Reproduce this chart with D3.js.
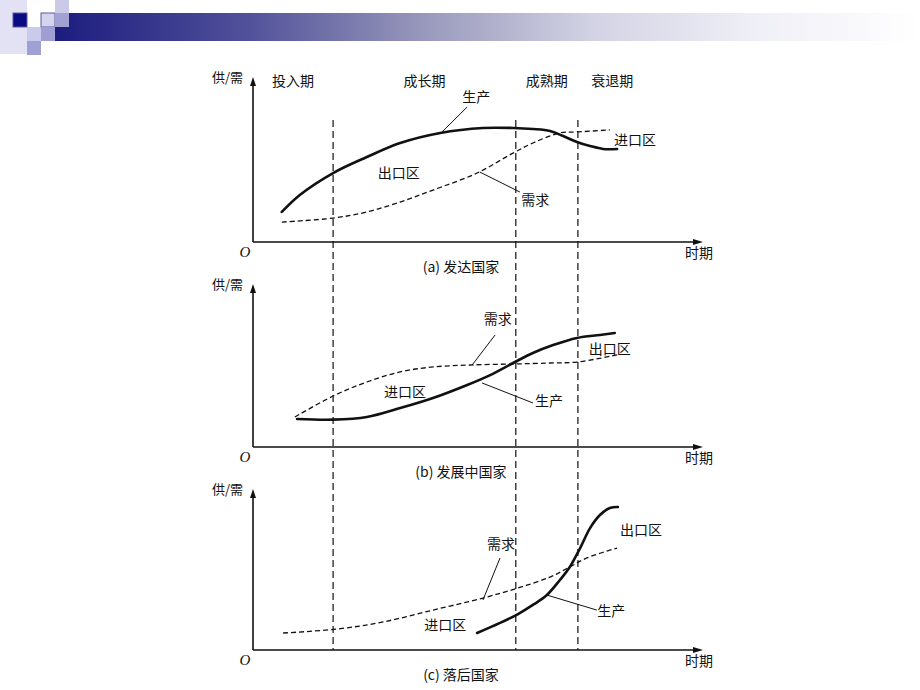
<!DOCTYPE html>
<html>
<head>
<meta charset="utf-8">
<script src="https://cdn.jsdelivr.net/npm/d3@7"></script>
<style>
    body { margin: 0; background: #fff; }
    svg { display: block; }
    text { font-family: "Noto Sans CJK SC", "Noto Sans", sans-serif; fill: #111; }
</style>
</head>
<body>
<div id="chart"></div>
<script>
// Stage names and the time where each stage ends
const periods = ['投入期', '成长期', '成熟期', '衰退期'];
const periodBounds = [0, 17.8, 58.4, 72.2, 87.5];

const panelTitles = ['(a) 发达国家', '(b) 发展中国家', '(c) 落后国家'];

// [time, supply/demand], 0..100 on both axes
const productionA = [[6.4, 18.2], [10.4, 28.5], [17.8, 41.8], [25.3, 51.5], [32.7, 60], [41.6, 66.1],
    [51.1, 69.1], [57.8, 69.1], [62.2, 68.5], [66, 67.3], [68.9, 64.2], [72, 60.6], [74.9, 58.2],
    [77.8, 56.4], [80.9, 56.4]];
const demandA = [[6.4, 12.1], [17.8, 14.5], [25.3, 18.2], [32.7, 24.2], [40, 31.5], [49.8, 41.8],
    [57.8, 53.9], [62.2, 60], [68.2, 66.1], [72, 66.7], [79.3, 67.9]];

const productionB = [[9.8, 17], [17.8, 16.6], [25.3, 18.2], [32.7, 23.6], [40, 29.7], [47.6, 37.6],
    [52.7, 43.6], [57.8, 50.9], [62.2, 57], [66.7, 61.8], [72, 66.1], [77.1, 67.9], [80.4, 69.1]];
const demandB = [[9.3, 18.2], [17.8, 30.9], [25.3, 39.4], [32.7, 45.5], [40, 48.5], [48.2, 49.7],
    [57.8, 50.3], [66, 50.9], [72, 51.5], [80.9, 55.8]];

const productionC = [[49.8, 10.3], [54.9, 16.4], [58.9, 21.8], [62.2, 27.3], [65.3, 33.3], [68.2, 42.4],
    [70.4, 50.3], [72.7, 61.8], [74.9, 73.9], [77.1, 81.8], [79.3, 86.1], [81.1, 86.7]];
const demandC = [[6.7, 10.3], [18.7, 12.7], [28.9, 17], [40, 24.2], [51.1, 31.5], [58.9, 37.6],
    [66, 44.2], [70.4, 50.3], [74.2, 55.8], [80.9, 61.8]];

// Labels inside each panel: text, anchor point, optional leader line [from, to]
const notesA = [
    { text: '生产', at: [49.6, 87.9], leader: [[47.6, 81.8], [42, 66.7]] },
    { text: '出口区', at: [32.4, 41.8] },
    { text: '需求', at: [62.7, 25.5], leader: [[50.4, 42.4], [59.3, 30.3]] },
    { text: '进口区', at: [84.9, 61.8] }
];
const notesB = [
    { text: '需求', at: [54.4, 77.6], leader: [[53.8, 67.9], [48.7, 49.7]] },
    { text: '出口区', at: [79.3, 59.4] },
    { text: '进口区', at: [33.8, 33.3] },
    { text: '生产', at: [65.8, 27.9], leader: [[50.9, 38.8], [62.2, 26.7]] }
];
const notesC = [
    { text: '需求', at: [55.1, 64.2], leader: [[54.9, 55.8], [51.1, 30.3]] },
    { text: '出口区', at: [86.2, 72.7] },
    { text: '进口区', at: [42.7, 15.2] },
    { text: '生产', at: [79.6, 23.6], leader: [[65.3, 33.3], [76.4, 24.2]] }
];

let width = 920;
let height = 690;

// layout of the three stacked panels
let panels = [
    { title: panelTitles[0], production: productionA, demand: demandA, notes: notesA, axisY: 242, topY: 77 },
    { title: panelTitles[1], production: productionB, demand: demandB, notes: notesB, axisY: 447, topY: 284 },
    { title: panelTitles[2], production: productionC, demand: demandC, notes: notesC, axisY: 650, topY: 489 }
];

let svg = d3.select('#chart')
    .append('svg')
    .attr('width', width)
    .attr('height', height);

let xScale = d3.scaleLinear()
    .domain([0, 100])
    .range([253, 703]);

const line = d3.line().curve(d3.curveCatmullRom.alpha(0.5));

drawHeader();
drawPeriods();
panels.forEach(drawPanel);

// Slide decoration: squares and a fading bar
function drawHeader() {
    let grad = svg.append('defs')
      .append('linearGradient')
        .attr('id', 'bar-fade')
        .attr('x1', '0%').attr('x2', '100%');

    [[0, '#1c1c7e'], [0.22, '#50509a'], [0.42, '#9696ba'], [0.62, '#d2d2e4'], [0.8, '#eeeef6'], [1, '#ffffff']]
        .forEach(([o, c]) => grad.append('stop').attr('offset', o).attr('stop-color', c));

    let g = svg.append('g').attr('class', 'header');

    g.append('rect')
        .attr('x', 55).attr('y', 13)
        .attr('width', 865).attr('height', 28)
        .attr('fill', 'url(#bar-fade)');

    let squares = [
        [0, 0, 27, 54, '#e2e2f4'],
        [13, 13, 14, 14, '#0a0a82'],
        [27, 27, 14, 14, '#cacaea'],
        [27, 41, 14, 14, '#a0a0d4'],
        [41, 13, 14, 14, '#d4d4ee'],
        [41, 27, 14, 14, '#9e9ed2'],
        [55, 0, 14, 13, '#cacae8'],
        [55, 13, 14, 14, '#a2a2d2']
    ];

    g.selectAll('.sq')
        .data(squares)
        .enter()
      .append('rect')
        .attr('x', d => d[0])
        .attr('y', d => d[1])
        .attr('width', d => d[2])
        .attr('height', d => d[3])
        .attr('fill', d => d[4])
        .attr('stroke', (d, i) => (i === 1 || i === 4) ? '#5a5aa0' : 'none')
        .attr('stroke-width', 1);
}

// Stage names on top and dashed stage borders through all panels
function drawPeriods() {
    svg.selectAll('.period-label')
        .data(periods)
        .enter()
      .append('text')
        .attr('x', (d, i) => xScale((periodBounds[i] + periodBounds[i + 1]) / 2))
        .attr('y', 86)
        .attr('text-anchor', 'middle')
        .style('font-size', '14px')
        .text(d => d);

    svg.selectAll('.period-line')
        .data(periodBounds.slice(1, 4))
        .enter()
      .append('line')
        .attr('x1', d => xScale(d))
        .attr('x2', d => xScale(d))
        .attr('y1', 120)
        .attr('y2', 650)
        .attr('stroke', '#111')
        .attr('stroke-width', 1.2)
        .attr('stroke-dasharray', '7,4');
}

function drawPanel(p) {
    let yScale = d3.scaleLinear()
        .domain([0, 100])
        .range([p.axisY, p.axisY - 165]);

    let g = svg.append('g').attr('class', 'panel');
    let x0 = xScale(0);

    // axes with arrow heads
    g.append('line')
        .attr('x1', x0).attr('x2', x0)
        .attr('y1', p.axisY).attr('y2', p.topY + 6)
        .attr('stroke', '#111').attr('stroke-width', 1.6);
    g.append('path')
        .attr('d', `M${x0},${p.topY} L${x0 - 3},${p.topY + 9} L${x0 + 3},${p.topY + 9} Z`)
        .attr('fill', '#111');

    g.append('line')
        .attr('x1', x0).attr('x2', xScale(100) - 6)
        .attr('y1', p.axisY).attr('y2', p.axisY)
        .attr('stroke', '#111').attr('stroke-width', 1.6);
    g.append('path')
        .attr('d', `M${xScale(100)},${p.axisY} L${xScale(100) - 10},${p.axisY - 3} L${xScale(100) - 10},${p.axisY + 3} Z`)
        .attr('fill', '#111');

    g.append('text')
        .attr('x', x0 - 10)
        .attr('y', p.topY + 5)
        .attr('text-anchor', 'end')
        .style('font-size', '13px')
        .text('供/需');

    g.append('text')
        .attr('x', x0 - 8)
        .attr('y', p.axisY + 15)
        .attr('text-anchor', 'middle')
        .style('font-family', '"Liberation Serif", serif')
        .style('font-style', 'italic')
        .style('font-size', '15px')
        .text('O');

    g.append('text')
        .attr('x', 713)
        .attr('y', p.axisY + 16)
        .attr('text-anchor', 'end')
        .style('font-size', '14px')
        .text('时期');

    g.append('text')
        .attr('x', 461)
        .attr('y', p.axisY + 30)
        .attr('text-anchor', 'middle')
        .style('font-size', '14px')
        .text(p.title);

    // demand (dashed) and production (solid)
    line.x(d => xScale(d[0])).y(d => yScale(d[1]));

    g.append('path')
        .datum(p.demand)
        .attr('d', line)
        .attr('fill', 'none')
        .attr('stroke', '#111')
        .attr('stroke-width', 1.3)
        .attr('stroke-dasharray', '5,3');

    g.append('path')
        .datum(p.production)
        .attr('d', line)
        .attr('fill', 'none')
        .attr('stroke', '#111')
        .attr('stroke-width', 2.6)
        .attr('stroke-linecap', 'round');

    // notes
    let notes = g.selectAll('.note')
        .data(p.notes)
        .enter();

    notes.filter(d => d.leader)
      .append('line')
        .attr('x1', d => xScale(d.leader[0][0]))
        .attr('y1', d => yScale(d.leader[0][1]))
        .attr('x2', d => xScale(d.leader[1][0]))
        .attr('y2', d => yScale(d.leader[1][1]))
        .attr('stroke', '#111')
        .attr('stroke-width', 1);

    notes.append('text')
        .attr('x', d => xScale(d.at[0]))
        .attr('y', d => yScale(d.at[1]) + 5)
        .attr('text-anchor', 'middle')
        .style('font-size', '14px')
        .text(d => d.text);
}
</script>
</body>
</html>
